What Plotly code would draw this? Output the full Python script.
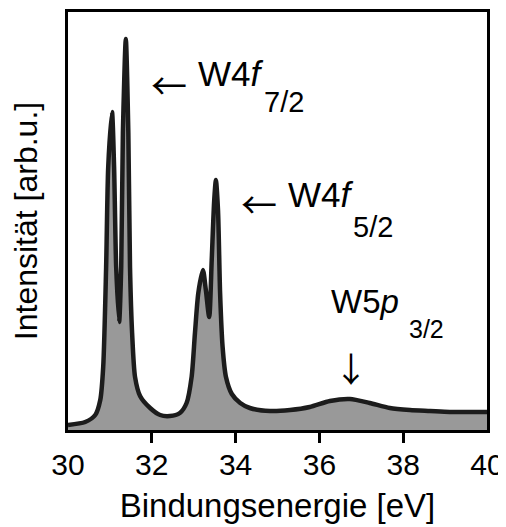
import plotly.graph_objects as go

# Binding energy [eV] and intensity [arb. u.]
energy = [30.00, 30.41, 30.65, 30.77, 30.84, 30.91, 30.96, 31.05, 31.10, 31.15,
          31.22, 31.27, 31.31, 31.38, 31.44, 31.48, 31.53, 31.60, 31.72, 31.96,
          32.20, 32.43, 32.67, 32.83, 32.95, 33.03, 33.11, 33.22, 33.29, 33.37,
          33.43, 33.49, 33.53, 33.58, 33.63, 33.69, 33.77, 33.91, 34.11, 34.34,
          34.82, 35.30, 35.77, 36.25, 36.73, 37.20, 37.68, 38.16, 38.64, 39.11,
          40.00]
intensity = [5, 8, 15, 30, 63, 163, 263, 318, 263, 163,
             108, 163, 297, 391, 297, 163, 97, 53, 34, 22,
             15, 14, 17, 27, 53, 97, 137, 160, 140, 113,
             170, 230, 250, 220, 137, 83, 53, 36, 27, 22,
             19, 20, 23, 29, 31, 27, 22, 20, 19, 18,
             18]

tick_values = [30, 32, 34, 36, 38, 40]
tick_labels = ["30", "32", "34", "36", "38", "40"]
tick_marks = [32, 34, 36, 38]

FONT = "Liberation Sans, Arial, sans-serif"
ARROW_FONT = "Noto Sans CJK JP, DejaVu Sans, sans-serif"

fig = go.Figure()
fig.add_trace(go.Scatter(
    x=energy, y=intensity, mode="lines",
    line=dict(color="#1c1c1c", width=4.5, shape="spline", smoothing=0.7),
    fill="tozeroy", fillcolor="#999999", showlegend=False, hoverinfo="skip",
))
# invisible trace for the tick-mark axis
fig.add_trace(go.Scatter(x=[30, 40], y=[0, 0], xaxis="x2", mode="lines",
                         line=dict(width=0), showlegend=False, hoverinfo="skip"))

# page body has an 8px margin, so the figure is drawn 8px smaller and offset
fig.update_layout(
    width=498, height=519,
    margin=dict(l=60, r=19, t=4, b=97),
    paper_bgcolor="white", plot_bgcolor="white",
    font=dict(family=FONT, color="black"),
    xaxis=dict(range=[30, 40], tickmode="array", tickvals=tick_values, ticktext=tick_labels,
               ticks="", showgrid=False, zeroline=False, showline=True, mirror=True,
               linecolor="black", linewidth=2.5, tickfont=dict(size=30),
               ticklabelstandoff=6, automargin=False,
               title=dict(text="Bindungsenergie [eV]", font=dict(size=33), standoff=15)),
    xaxis2=dict(range=[30, 40], overlaying="x", anchor="y", side="bottom",
                tickmode="array", tickvals=tick_marks, ticks="outside", ticklen=12,
                tickwidth=3, tickcolor="black", showticklabels=False, showgrid=False,
                zeroline=False, showline=False, automargin=False),
    yaxis=dict(range=[0, 418], showticklabels=False, ticks="", showgrid=False,
               zeroline=False, showline=True, mirror=True, linecolor="black", linewidth=2.5,
               automargin=False,
               title=dict(text="Intensität [arb.u.]", font=dict(size=32), standoff=24)),
)

def label(x, y, text, size, xanchor="left", family=FONT):
    fig.add_annotation(x=x, y=y, xref="x", yref="y", text=text, showarrow=False,
                       xanchor=xanchor, yanchor="middle", font=dict(size=size, family=family))

# W4f 7/2
label(31.94, 346, "\u2190", 36, family=ARROW_FONT)
label(33.06, 357, "W4<i>f</i>", 35)
label(34.64, 328, "7/2", 29)
# W4f 5/2
label(34.08, 227, "\u2190", 36, family=ARROW_FONT)
label(35.21, 236, "W4<i>f</i>", 35)
label(36.76, 203, "5/2", 29)
# W5p 3/2
label(36.22, 129, "W5<i>p</i>", 33)
label(38.08, 101, "3/2", 25)
label(36.75, 63, "\u2193", 34, xanchor="center", family=ARROW_FONT)

fig.write_html("out.html")
